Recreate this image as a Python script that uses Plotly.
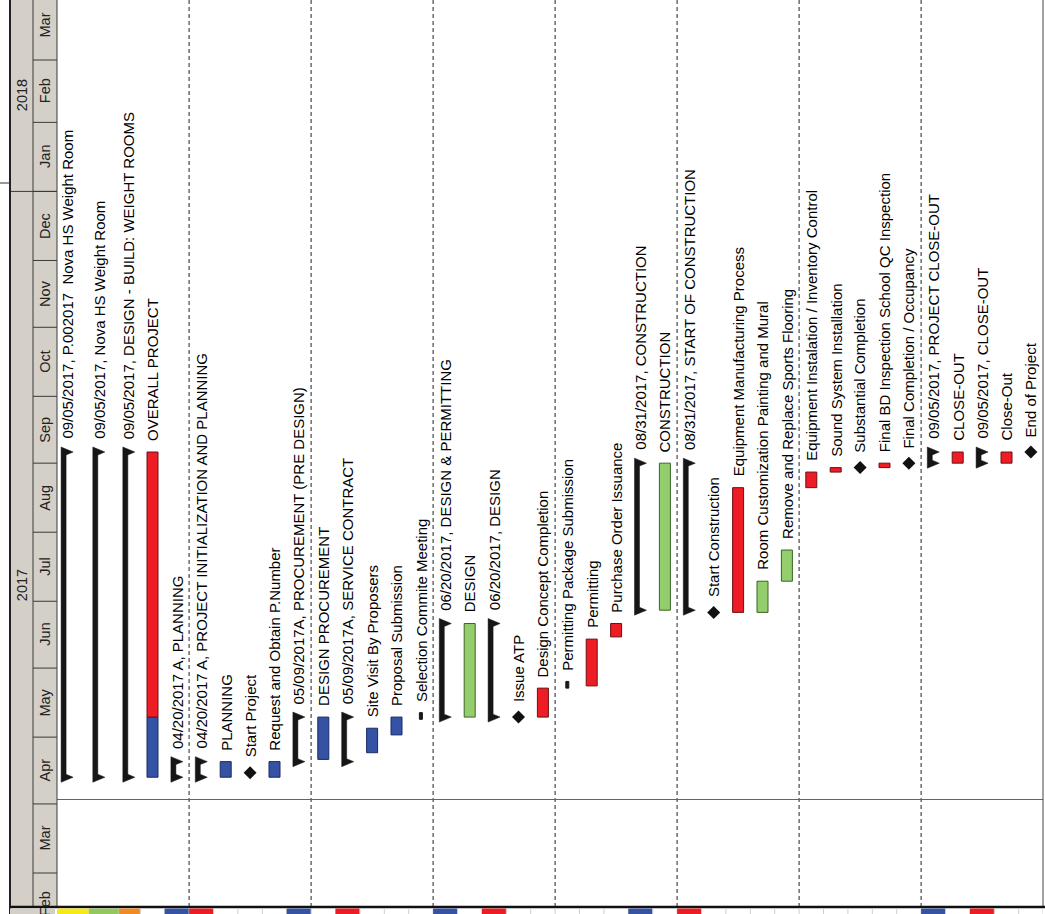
import plotly.graph_objects as go
import pandas as pd

# ---------------- DATA ----------------
labels = [
    "09/05/2017, P.002017  Nova HS Weight Room",
    "09/05/2017, Nova HS Weight Room",
    "09/05/2017, DESIGN - BUILD: WEIGHT ROOMS",
    "OVERALL PROJECT",
    "04/20/2017 A, PLANNING",
    "04/20/2017 A, PROJECT INITIALIZATION AND PLANNING",
    "PLANNING",
    "Start Project",
    "Request and Obtain P.Number",
    "05/09/2017A, PROCUREMENT (PRE DESIGN)",
    "DESIGN PROCUREMENT",
    "05/09/2017A, SERVICE CONTRACT",
    "Site Visit By Proposers",
    "Proposal Submission",
    "Selection Commite Meeting",
    "06/20/2017, DESIGN & PERMITTING",
    "DESIGN",
    "06/20/2017, DESIGN",
    "Issue ATP",
    "Design Concept Completion",
    "Permitting Package Submission",
    "Permitting",
    "Purchase Order Issuance",
    "08/31/2017, CONSTRUCTION",
    "CONSTRUCTION",
    "08/31/2017, START OF CONSTRUCTION",
    "Start Construction",
    "Equipment Manufacturing Process",
    "Room Customization Painting and Mural",
    "Remove and Replace Sports Flooring",
    "Equipment Instalation / Inventory Control",
    "Sound System Installation",
    "Substantial Completion",
    "Final BD Inspection School QC Inspection",
    "Final Completion / Occupancy",
    "09/05/2017, PROJECT CLOSE-OUT",
    "CLOSE-OUT",
    "09/05/2017, CLOSE-OUT",
    "Close-Out",
    "End of Project",
]

kinds = [
    "summary", "summary", "summary", "split", "summary",
    "summary", "blue", "milestone", "blue", "summary",
    "blue", "summary", "blue", "blue", "tick",
    "summary", "green", "summary", "milestone", "red",
    "tick", "red", "red", "summary", "green",
    "summary", "milestone", "red", "green", "green",
    "red", "red", "milestone", "red", "milestone",
    "summary", "red", "summary", "red", "milestone",
]

start = [
    "2017-04-13", "2017-04-13", "2017-04-13", "2017-04-13", "2017-04-13",
    "2017-04-13", "2017-04-13", "2017-04-15", "2017-04-13", "2017-04-20",
    "2017-04-21", "2017-04-20", "2017-04-24", "2017-05-02", "2017-05-09",
    "2017-05-10", "2017-05-10", "2017-05-10", "2017-05-10", "2017-05-10",
    "2017-05-23", "2017-05-24", "2017-06-15", "2017-06-27", "2017-06-27",
    "2017-06-27", "2017-06-26", "2017-06-26", "2017-06-26", "2017-07-10",
    "2017-08-21", "2017-08-28", "2017-08-30", "2017-08-30", "2017-09-01",
    "2017-09-01", "2017-09-01", "2017-09-01", "2017-09-01", "2017-09-06",
]

finish = [
    "2017-09-06", "2017-09-06", "2017-09-06", "2017-09-06", "2017-04-20",
    "2017-04-20", "2017-04-20", "2017-04-15", "2017-04-20", "2017-05-10",
    "2017-05-10", "2017-05-10", "2017-05-05", "2017-05-10", "2017-05-12",
    "2017-06-21", "2017-06-21", "2017-06-21", "2017-05-10", "2017-05-23",
    "2017-05-26", "2017-06-14", "2017-06-21", "2017-09-01", "2017-09-01",
    "2017-09-01", "2017-06-26", "2017-08-21", "2017-07-10", "2017-07-24",
    "2017-08-28", "2017-08-30", "2017-08-30", "2017-09-01", "2017-09-01",
    "2017-09-06", "2017-09-06", "2017-09-06", "2017-09-06", "2017-09-06",
]

# actual finish for the split (actual / remaining) bar
actual_finish = [None] * 40
actual_finish[3] = "2017-05-10"

months = pd.date_range("2017-02-01", "2018-03-01", freq="MS")
month_names = [m.strftime("%b") for m in months]
years = ["2017", "2018"]
year_label_dates = ["2017-07-08", "2018-02-13"]
year_boundary = "2018-01-01"
status_line_date = "2017-04-03"

# ---------------- STYLE / LAYOUT ----------------
W, H = 1045, 914
ML, MR, MT, MB = 57, 2, 0, 7
PW = W - ML - MR
PH = H - MT - MB
PX_SLOT = 24.4          # pixels per activity column
PX_DAY = 2.2274         # pixels per day
slot_pos = [-0.5, 0.8, 2.03] + list(range(3, 40))
XMIN = 3 - (152.5 - ML) / PX_SLOT
XMAX = XMIN + PW / PX_SLOT
Y0_PX = 873             # pixel row of 2017-03-01
REF = pd.Timestamp("2017-03-01")
YMIN = -(PH - Y0_PX) / PX_DAY
YMAX = Y0_PX / PX_DAY
page_breaks = [4.5, 9.5, 14.5, 19.5, 24.5, 29.5, 34.5]

band_color = [None] * 40
band_color[0], band_color[1], band_color[2] = "#f6ea16", "#93c95c", "#f28a23"
for i in (4, 9, 15, 23, 35):
    band_color[i] = "#3653a3"
for i in (5, 11, 17, 25, 37):
    band_color[i] = "#ec1c24"
band_edges_first = [-1.0, 0.4, 1.63, 2.5]

FILL = {"blue": "#3553a4", "red": "#ee1c25", "green": "#94cd6c", "tick": "#1a1a1a"}
EDGE = {"blue": "#1b2a66", "red": "#6d1014", "green": "#3b6426", "tick": "#1a1a1a"}
BAR_W = 11
HEADER_FILL = "#d4d0c8"
FONT = "Liberation Sans, Arial, sans-serif"


def d(s):
    return (pd.Timestamp(s) - REF) / pd.Timedelta(days=1)


def sx(px):
    return px / PX_SLOT


def dy(px):
    return px / PX_DAY


def px_paper_x(px):
    return (px - ML) / PW


def px_paper_y(py):
    return 1 - (py - MT) / PH


fig = go.Figure()

# ---- bars (task bars) ----
bx, by, bb, bw, bc, bl = [], [], [], [], [], []
for i, k in enumerate(kinds):
    s, f = d(start[i]), d(finish[i])
    x = slot_pos[i]
    if k in ("blue", "red", "green", "tick"):
        bx.append(x); bb.append(s); by.append(f - s)
        bw.append(sx(3 if k == "tick" else BAR_W))
        bc.append(FILL[k]); bl.append(EDGE[k])
    elif k == "split":
        a = d(actual_finish[i])
        bx += [x, x]; bb += [s, a]; by += [a - s, f - a]
        bw += [sx(BAR_W), sx(BAR_W)]
        bc += [FILL["blue"], FILL["red"]]; bl += [EDGE["blue"], EDGE["red"]]
fig.add_trace(go.Bar(x=bx, y=by, base=bb, width=bw,
                     marker=dict(color=bc, line=dict(color=bl, width=1)),
                     hoverinfo="skip", showlegend=False))

# ---- summary bars: thin bar with flag at each end ----
spx, spy = [], []
for i, k in enumerate(kinds):
    if k != "summary":
        continue
    c, s, e = slot_pos[i], d(start[i]), d(finish[i])
    L, R, T = c - sx(6), c - sx(1), c + sx(6)
    h, hh = dy(5), dy(5 * 7 / 12)
    pts = [(L, s - h), (L, e + h), (T, e), (R, e - hh), (R, s + hh), (T, s), (L, s - h)]
    spx += [p[0] for p in pts] + [None]
    spy += [p[1] for p in pts] + [None]
fig.add_trace(go.Scatter(x=spx, y=spy, mode="lines", fill="toself",
                         fillcolor="#161616", line=dict(width=0.5, color="#161616"),
                         hoverinfo="skip", showlegend=False))

# ---- milestones ----
mx = [slot_pos[i] for i, k in enumerate(kinds) if k == "milestone"]
my = [d(start[i]) for i, k in enumerate(kinds) if k == "milestone"]
fig.add_trace(go.Scatter(x=mx, y=my, mode="markers",
                         marker=dict(symbol="diamond", size=10, color="#111111",
                                     line=dict(width=0)),
                         hoverinfo="skip", showlegend=False))

# ---- labels ----
annotations = []
for i, k in enumerate(kinds):
    top = d(finish[i])
    shift = {"summary": 11, "milestone": 13}.get(k, 9)
    annotations.append(dict(x=slot_pos[i], y=top, xref="x", yref="y", text=labels[i],
                            showarrow=False, textangle=-90, xanchor="center",
                            yanchor="bottom", yshift=shift,
                            font=dict(family=FONT, size=15, color="#000")))

# ---- header (timescale) ----
shapes = []
hx0, hx1, hx2 = px_paper_x(10), px_paper_x(33), 0.0
shapes.append(dict(type="rect", xref="paper", yref="paper", x0=hx0, x1=hx2, y0=0, y1=1,
                   fillcolor=HEADER_FILL, line=dict(width=0), layer="below"))
for m in months[1:]:
    shapes.append(dict(type="line", xref="paper", yref="y", x0=hx1, x1=hx2,
                       y0=d(m), y1=d(m), line=dict(color="#3a3a3a", width=1)))
shapes.append(dict(type="line", xref="paper", yref="y", x0=hx0, x1=hx2,
                   y0=d(year_boundary), y1=d(year_boundary), line=dict(color="#3a3a3a", width=1)))
shapes.append(dict(type="line", xref="paper", yref="paper", x0=hx0, x1=hx0, y0=px_paper_y(914), y1=1,
                   line=dict(color="#222", width=2)))
shapes.append(dict(type="line", xref="paper", yref="paper", x0=hx1, x1=hx1, y0=0, y1=1,
                   line=dict(color="#3a3a3a", width=1)))
shapes.append(dict(type="line", xref="paper", yref="paper", x0=0, x1=0, y0=0, y1=1,
                   line=dict(color="#3a3a3a", width=1)))
shapes.append(dict(type="line", xref="paper", yref="paper", x0=px_paper_x(0), x1=hx0,
                   y0=px_paper_y(183), y1=px_paper_y(183), line=dict(color="#333", width=1)))
for m, nm in zip(months, month_names):
    mid = m + (m + pd.offsets.MonthBegin(1) - m) / 2
    annotations.append(dict(x=px_paper_x(45), y=d(mid), xref="paper", yref="y", text=nm,
                            showarrow=False, textangle=-90, xanchor="center", yanchor="middle",
                            font=dict(family=FONT, size=14.5, color="#222")))
for yl, yd in zip(years, year_label_dates):
    annotations.append(dict(x=px_paper_x(21.5), y=d(yd), xref="paper", yref="y", text=yl,
                            showarrow=False, textangle=-90, xanchor="center", yanchor="middle",
                            font=dict(family=FONT, size=14.5, color="#222")))

# ---- page separators ----
for pb in page_breaks:
    shapes.append(dict(type="line", xref="x", yref="paper", x0=pb, x1=pb, y0=0, y1=1,
                       line=dict(color="#222", width=1, dash="4px,3px"), layer="below"))

# ---- status line ----
shapes.append(dict(type="line", xref="paper", yref="y", x0=0, x1=1,
                   y0=d(status_line_date), y1=d(status_line_date),
                   line=dict(color="#4a62a6", width=1), layer="below"))

# ---- frame ----
shapes.append(dict(type="line", xref="paper", yref="paper", x0=1, x1=1, y0=0, y1=1,
                   line=dict(color="#444", width=1)))
shapes.append(dict(type="line", xref="paper", yref="paper", x0=hx0, x1=1.01, y0=0, y1=0,
                   line=dict(color="#111", width=2.5)))

# ---- bottom band (WBS colour codes) ----
yb0, yb1 = px_paper_y(914), px_paper_y(908.5)
edges = band_edges_first + [s + 0.5 for s in range(3, 40)]
for i in range(40):
    x0, x1 = edges[i], edges[i + 1]
    if band_color[i]:
        shapes.append(dict(type="rect", xref="x", yref="paper", x0=x0, x1=x1, y0=yb0, y1=yb1,
                           fillcolor=band_color[i], line=dict(width=0)))
    shapes.append(dict(type="line", xref="x", yref="paper", x0=x1, x1=x1, y0=yb0, y1=yb1,
                       line=dict(color="#cfcfcf", width=1)))
shapes.append(dict(type="rect", xref="paper", yref="paper", x0=hx0, x1=px_paper_x(55),
                   y0=yb0, y1=yb1, fillcolor=HEADER_FILL, line=dict(width=0)))

fig.update_layout(
    width=W, height=H,
    margin=dict(l=ML, r=MR, t=MT, b=MB),
    paper_bgcolor="white", plot_bgcolor="white",
    barmode="overlay", showlegend=False,
    xaxis=dict(range=[XMIN, XMAX], visible=False, fixedrange=True),
    yaxis=dict(range=[YMIN, YMAX], visible=False, fixedrange=True),
    shapes=shapes, annotations=annotations,
)

fig.write_html("out.html")
